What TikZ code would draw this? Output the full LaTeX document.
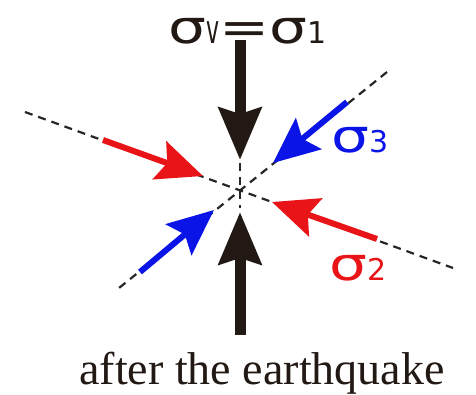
\documentclass[tikz,border=0pt]{standalone}
\usepackage{fontspec}
\setmainfont{Liberation Serif}
\newfontfamily\sigfont{DejaVu Sans}
\usetikzlibrary{arrows.meta}
\definecolor{arrred}{RGB}{232,20,24}
\definecolor{arrblue}{RGB}{10,20,230}
\definecolor{arrblack}{RGB}{34,24,20}
\newcommand{\sigw}{\scalebox{1.3}[1]{σ}}
\begin{document}
\begin{tikzpicture}[x=1pt,y=-1pt,
  fault/.style={line width=2.2pt, dash pattern=on 8pt off 6pt, black!85},
  bigarrow/.style={line width=11pt, arrblack, -{Stealth[length=52pt,width=42pt,inset=6pt]}},
  smallarrow/.style={line width=6pt, -{Stealth[length=46pt,width=40pt,inset=8pt]}},
  siglabel/.style={inner sep=0pt, anchor=base west, font=\sigfont\fontsize{46}{48}\selectfont}
  ]
\useasboundingbox (0,0) rectangle (476,394);
% fault lines
\coordinate (f1a) at (25,112);
\coordinate (f1b) at (453,268);
\coordinate (f2a) at (387,72);
\coordinate (f2b) at (119,288);
\coordinate (va) at (240,163);
\coordinate (vb) at (240,208);
\draw[fault] (f1a) -- (f1b);
\draw[fault] (f2a) -- (f2b);
\draw[fault] (va) -- (vb);
% arrows
\coordinate (s1a) at (240,40);
\coordinate (s1b) at (240,160);
\coordinate (s1c) at (240,335);
\coordinate (s1d) at (240,212);
\draw[bigarrow] (s1a) -- (s1b);
\draw[bigarrow] (s1c) -- (s1d);
\coordinate (s2a) at (103,140);
\coordinate (s2b) at (203,176);
\coordinate (s2c) at (377,239);
\coordinate (s2d) at (272,202);
\draw[smallarrow, arrred] (s2a) -- (s2b);
\draw[smallarrow, arrred] (s2c) -- (s2d);
\coordinate (s3a) at (347,102);
\coordinate (s3b) at (273,163);
\coordinate (s3c) at (140,272);
\coordinate (s3d) at (214,210);
\draw[smallarrow, arrblue] (s3a) -- (s3b);
\draw[smallarrow, arrblue] (s3c) -- (s3d);
% labels
\node[siglabel, arrblack] (top) at (168,43) {\sigw\scalebox{0.55}[1]{\fontsize{40}{40}\selectfont v}\scalebox{1.3}[1]{=}\sigw{\fontsize{30}{30}\selectfont 1}};
\node[siglabel, arrblue] (l3) at (331,152) {\sigw{\fontsize{30}{30}\selectfont 3}};
\node[siglabel, arrred] (l2) at (329,280) {\sigw{\fontsize{30}{30}\selectfont 2}};
\node[inner sep=0pt, anchor=base, font=\fontsize{46}{50}\selectfont, arrblack] (cap) at (262,384) {after the earthquake};
\end{tikzpicture}
\end{document}
